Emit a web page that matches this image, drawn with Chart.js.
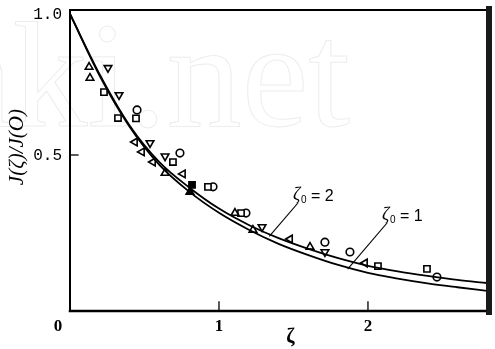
<!DOCTYPE html>
<html>
<head>
<meta charset="utf-8">
<script src="https://cdn.jsdelivr.net/npm/chart.js@4.4.1/dist/chart.umd.min.js"></script>
<style>
  html, body { margin: 0; padding: 0; background: #fff; }
  #wrap { width: 495px; height: 349px; }
</style>
</head>
<body>
<div id="wrap"><canvas id="c" width="495" height="349"></canvas></div>
<script>
// Model curves J(ζ)/J(0) for two values of ζ0
const zetaGrid = [0, 0.2, 0.4, 0.6, 0.8, 1.0, 1.2, 1.4, 1.6, 1.8, 2.0, 2.2, 2.4, 2.6, 2.8];
const curveZeta0_1 = [1.00, 0.78, 0.60, 0.465, 0.37, 0.295, 0.235, 0.185, 0.145, 0.11, 0.082, 0.062, 0.045, 0.031, 0.018];
const curveZeta0_2 = [1.00, 0.785, 0.605, 0.475, 0.385, 0.31, 0.252, 0.205, 0.167, 0.134, 0.107, 0.087, 0.071, 0.057, 0.046];

// Measured points, grouped by marker
const triUp    = [[0.128, 0.812], [0.134, 0.773], [0.638, 0.436], [1.107, 0.294], [1.228, 0.234], [1.611, 0.174]];
const triDown  = [[0.255, 0.809], [0.329, 0.713], [0.537, 0.543], [0.638, 0.496], [1.289, 0.245], [1.711, 0.156]];
const triLeft  = [[0.436, 0.546], [0.483, 0.511], [0.557, 0.475], [0.758, 0.433], [1.477, 0.202], [1.98, 0.117]];
const squares  = [[0.228, 0.723], [0.322, 0.631], [0.443, 0.63], [0.691, 0.475], [0.926, 0.387], [1.148, 0.294], [2.067, 0.106], [2.396, 0.096]];
const circles  = [[0.45, 0.66], [0.738, 0.507], [0.96, 0.387], [1.181, 0.294], [1.711, 0.191], [1.879, 0.156], [2.463, 0.067]];
const filledSq = [[0.819, 0.394]];
const filledTri = [[0.805, 0.369]];

// Axis ticks and labels
const xTicks = [0, 1, 2];
const xTickLabels = ['0', '1', '2'];
const yTicks = [0.5, 1.0];
const yTickLabels = ['0.5', '1.0'];
const xTitle = 'ζ';
const yTitle = 'J(ζ)/J(O)';

const toXY = arr => arr.map(p => ({ x: p[0], y: p[1] }));
const curve = vals => zetaGrid.map((z, i) => ({ x: z, y: vals[i] }));

function markerSet(data, style, rotation, filled) {
  return {
    type: 'scatter',
    data: toXY(data),
    pointStyle: style,
    rotation: rotation,
    radius: style === 'circle' ? 3.8 : 4.4,
    borderColor: '#000',
    backgroundColor: filled ? '#000' : '#fff',
    borderWidth: 1.6,
    showLine: false
  };
}

const serif = "'Liberation Serif', 'DejaVu Serif', serif";
const mono = "'Liberation Mono', 'DejaVu Sans Mono', monospace";
const sans = "'Liberation Sans', 'DejaVu Sans', sans-serif";

const decor = {
  id: 'decor',
  beforeDraw(chart) {
    const ctx = chart.ctx;
    ctx.save();
    ctx.fillStyle = '#fff';
    ctx.fillRect(0, 0, chart.width, chart.height);
    // faint outlined site mark
    ctx.font = '150px ' + serif;
    ctx.textAlign = 'right';
    ctx.textBaseline = 'alphabetic';
    ctx.strokeStyle = '#ededed';
    ctx.lineWidth = 1;
    ctx.strokeText('cnki.net', 350, 126);
    ctx.restore();
  },
  afterDraw(chart) {
    const ctx = chart.ctx;
    const a = chart.chartArea;
    const xs = chart.scales.x, ys = chart.scales.y;
    ctx.save();
    ctx.strokeStyle = '#000';
    ctx.lineCap = 'square';
    // frame
    ctx.lineWidth = 2;
    ctx.beginPath(); ctx.moveTo(a.left, a.top); ctx.lineTo(a.right, a.top); ctx.stroke();
    ctx.beginPath(); ctx.moveTo(a.left, a.top); ctx.lineTo(a.left, a.bottom); ctx.stroke();
    ctx.lineWidth = 2.5;
    ctx.beginPath(); ctx.moveTo(a.left, a.bottom); ctx.lineTo(a.right, a.bottom); ctx.stroke();
    ctx.lineWidth = 6;
    ctx.strokeStyle = '#1a1a1a';
    ctx.beginPath(); ctx.moveTo(a.right + 2, a.top - 1); ctx.lineTo(a.right + 2, a.bottom + 1); ctx.stroke();
    ctx.strokeStyle = '#000';
    // inward ticks
    ctx.lineWidth = 1.3;
    xTicks.forEach(v => {
      if (v === 0) return;
      const px = xs.getPixelForValue(v);
      ctx.beginPath(); ctx.moveTo(px, a.bottom); ctx.lineTo(px, a.bottom - 9); ctx.stroke();
    });
    yTicks.forEach(v => {
      if (v === 1.0) return;
      const py = ys.getPixelForValue(v);
      ctx.beginPath(); ctx.moveTo(a.left, py); ctx.lineTo(a.left + 8, py); ctx.stroke();
    });
    // tick labels
    ctx.fillStyle = '#000';
    ctx.textBaseline = 'middle';
    ctx.textAlign = 'center';
    ctx.font = 'bold 17px ' + serif;
    xTicks.forEach((v, i) => {
      let px = xs.getPixelForValue(v);
      if (v === 0) px -= 12;
      ctx.fillText(xTickLabels[i], px, a.bottom + 16);
    });
    ctx.textAlign = 'right';
    ctx.font = '16px ' + mono;
    yTicks.forEach((v, i) => {
      const py = ys.getPixelForValue(v);
      ctx.fillText(yTickLabels[i], a.left - 8, py + 1);
    });
    // axis titles
    ctx.textAlign = 'center';
    ctx.font = 'bold 20px ' + serif;
    ctx.fillText(xTitle, xs.getPixelForValue(1.48), a.bottom + 27);
    ctx.save();
    ctx.translate(17, ys.getPixelForValue(0.528));
    ctx.rotate(-Math.PI / 2);
    ctx.font = 'italic 21px ' + serif;
    ctx.fillText(yTitle, 0, 0);
    ctx.restore();
    // curve annotations with leader lines
    const note = (label, tx, ty, fromX, fromY, toX, toY) => {
      ctx.lineWidth = 1.1;
      ctx.beginPath();
      ctx.moveTo(xs.getPixelForValue(fromX), ys.getPixelForValue(fromY));
      ctx.lineTo(xs.getPixelForValue(toX), ys.getPixelForValue(toY));
      ctx.stroke();
      const x0 = xs.getPixelForValue(tx), y0 = ys.getPixelForValue(ty);
      ctx.textAlign = 'left';
      ctx.textBaseline = 'alphabetic';
      ctx.font = 'italic 18px ' + serif;
      ctx.fillText('ζ', x0, y0 + 5);
      ctx.font = '10px ' + sans;
      ctx.fillText('0', x0 + 8, y0 + 8);
      ctx.font = '16px ' + sans;
      ctx.fillText('= ' + label, x0 + 18, y0 + 6);
    };
    note('2', 1.497, 0.358, 1.53, 0.33, 1.34, 0.213);
    note('1', 2.094, 0.287, 2.128, 0.259, 1.866, 0.097);
    ctx.restore();
  }
};

new Chart(document.getElementById('c'), {
  type: 'scatter',
  data: {
    datasets: [
      { type: 'line', data: curve(curveZeta0_1), borderColor: '#000', borderWidth: 1.8, pointRadius: 0, cubicInterpolationMode: 'monotone', fill: false },
      { type: 'line', data: curve(curveZeta0_2), borderColor: '#000', borderWidth: 1.8, pointRadius: 0, cubicInterpolationMode: 'monotone', fill: false },
      markerSet(triUp, 'triangle', 0, false),
      markerSet(triDown, 'triangle', 180, false),
      markerSet(triLeft, 'triangle', 270, false),
      markerSet(squares, 'rect', 0, false),
      markerSet(circles, 'circle', 0, false),
      markerSet(filledSq, 'rect', 0, true),
      markerSet(filledTri, 'triangle', 0, true)
    ]
  },
  options: {
    responsive: false,
    animation: false,
    events: [],
    layout: { padding: { top: 10, right: 8, left: 0, bottom: 0 } },
    plugins: { legend: { display: false }, tooltip: { enabled: false } },
    scales: {
      x: {
        type: 'linear', min: 0, max: 2.799,
        grid: { display: false }, border: { display: false },
        ticks: { display: false },
        afterFit(s) { s.height = 38; }
      },
      y: {
        type: 'linear', min: -0.0532, max: 1.0142,
        grid: { display: false }, border: { display: false },
        ticks: { display: false },
        afterFit(s) { s.width = 70; }
      }
    }
  },
  plugins: [decor]
});
</script>
</body>
</html>
